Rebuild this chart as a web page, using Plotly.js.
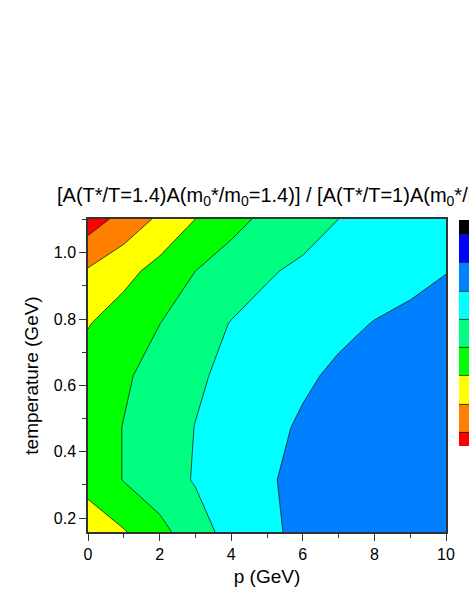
<!DOCTYPE html>
<html>
<head>
<meta charset="utf-8">
<script src="https://cdn.plot.ly/plotly-3.0.1.min.js"></script>
<style>
  html, body { margin: 0; padding: 0; background: #fff; }
  #chart { width: 469px; height: 607px; }
</style>
</head>
<body>
<div id="chart"></div>
<script>
// momentum grid (GeV)
var p = [0, 1, 2, 3, 4, 5, 6, 7, 8, 9, 10];
// temperature grid (GeV)
var temperature = [0.158, 0.315, 0.473, 0.63, 0.787, 0.945, 1.102];
// contour level value, one row per temperature
var ratio = [
  [2.49, 2.93, 3.71, 4.57, 5.35, 5.84, 6.2, 6.4, 6.55, 6.65, 6.75],
  [3.3, 4.04, 4.56, 5.07, 5.47, 5.92, 6.2, 6.4, 6.55, 6.65, 6.75],
  [3.5, 4.03, 4.53, 5.02, 5.39, 5.76, 6.12, 6.35, 6.55, 6.7, 6.8],
  [3.4, 3.87, 4.36, 4.86, 5.23, 5.54, 5.86, 6.15, 6.35, 6.5, 6.65],
  [2.95, 3.47, 3.99, 4.54, 5.04, 5.29, 5.54, 5.8, 6.03, 6.17, 6.3],
  [2.1, 2.7, 3.33, 4.0, 4.45, 4.91, 5.17, 5.375, 5.58, 5.79, 5.98],
  [0.49, 1.34, 2.18, 3.0, 3.7, 4.22, 4.61, 5.0, 5.3, 5.55, 5.8]
];
var bandColors = ["#ff0000", "#ff8000", "#ffff00", "#00ff00", "#00ff80",
                  "#00ffff", "#0080ff", "#0000ff", "#000000"];

var font = "Liberation Sans, Arial, sans-serif";
var W = 469, L = 88, R = 23;
var plotW = W - L - R;

var trace = {
  type: "contour",
  x: p,
  y: temperature,
  z: ratio,
  colorscale: bandColors.map(function (c, i) { return [i / (bandColors.length - 1), c]; }),
  contours: { start: 1, end: 8, size: 1, coloring: "fill", showlines: true },
  line: { color: "#1a1a1a", width: 0.8, smoothing: 0 },
  colorbar: {
    x: (459.5 - L) / plotW, xanchor: "left", xpad: 0, ypad: 0,
    y: 1 - 1 / 313, yanchor: "top",
    len: 226, lenmode: "pixels",
    thickness: 25, outlinewidth: 0,
    ticks: "", showticklabels: false
  },
  hoverinfo: "x+y+z"
};

var axisCommon = {
  showline: true, mirror: true, linecolor: "#333", linewidth: 1.5,
  ticks: "outside", ticklen: 7, tickwidth: 1.3, tickcolor: "#333",
  showgrid: false, zeroline: false,
  tickfont: { family: font, size: 16, color: "#000" },
  minor: { ticks: "outside", ticklen: 4, tickwidth: 1.2, tickcolor: "#333", dtick: 1 }
};

var layout = {
  width: W, height: 607,
  margin: { l: L, r: R, t: 219, b: 75, autoexpand: false },
  paper_bgcolor: "#fff", plot_bgcolor: "#fff",
  title: {
    text: "[A(T*/T=1.4)A(m<sub>0</sub>*/m<sub>0</sub>=1.4)] / [A(T*/T=1)A(m<sub>0</sub>*/m<sub>0</sub>=1)]",
    font: { family: font, size: 20, color: "#000" },
    x: 57 / W, xanchor: "left", xref: "container",
    y: 1 - 195 / 607, yanchor: "middle", yref: "container"
  },
  xaxis: Object.assign({}, axisCommon, {
    range: [0, 10], dtick: 2,
    title: { text: "p (GeV)", font: { family: font, size: 19, color: "#000" }, standoff: 8 },
    minor: Object.assign({}, axisCommon.minor, { dtick: 1 })
  }),
  yaxis: Object.assign({}, axisCommon, {
    range: [0.158, 1.102], dtick: 0.2, tick0: 0, tickformat: ".1f",
    title: { text: "temperature (GeV)", font: { family: font, size: 19, color: "#000" }, standoff: 10 },
    minor: Object.assign({}, axisCommon.minor, { dtick: 0.1 })
  }),
  showlegend: false
};

Plotly.newPlot("chart", [trace], layout, { displayModeBar: false });
</script>
</body>
</html>
